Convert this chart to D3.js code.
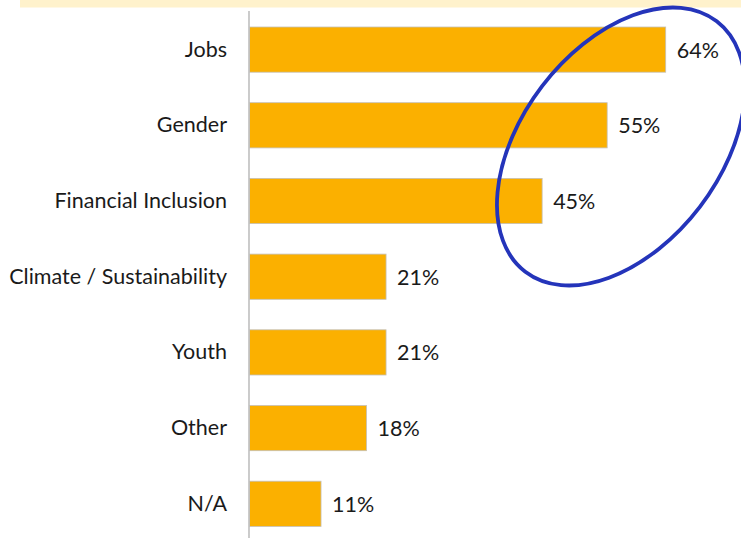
<!DOCTYPE html>
<html>
<head>
<meta charset="utf-8">
<script src="https://cdn.jsdelivr.net/npm/d3@7"></script>
<style>
  html, body { margin: 0; padding: 0; background: #ffffff; }
  svg { display: block; }
</style>
</head>
<body>
<svg id="chart" width="741" height="538"></svg>
<script>
// Share of respondents by focus area
const categories = ["Jobs", "Gender", "Financial Inclusion", "Climate / Sustainability", "Youth", "Other", "N/A"];
const values = [64, 55, 45, 21, 21, 18, 11];
const valueLabels = ["64%", "55%", "45%", "21%", "21%", "18%", "11%"];

const W = 741, H = 538;
const svg = d3.select("#chart");
const font = "Lato, 'Open Sans', sans-serif";

// light header strip
svg.append("rect")
  .attr("x", 20).attr("y", 0)
  .attr("width", W - 20).attr("height", 7.5)
  .attr("fill", "#FFF2CC");

const x = d3.scaleLinear().domain([0, 64]).range([249.5, 665.7]);

// bars: first at y=27, spaced ~75.7px apart, ~45px tall
const step = 75.7, barH = 45.2, top0 = 27;
const y = d3.scaleBand()
  .domain(categories)
  .range([top0, top0 + step * (categories.length - 1) + barH])
  .paddingInner((step - barH) / step)
  .paddingOuter(0);

const g = svg.append("g");

g.selectAll("rect.bar")
  .data(categories)
  .join("rect")
  .attr("class", "bar")
  .attr("x", x(0))
  .attr("y", d => y(d))
  .attr("width", (d, i) => x(values[i]) - x(0))
  .attr("height", y.bandwidth())
  .attr("fill", "#FBB000")
  .attr("stroke", "#C4C0B8")
  .attr("stroke-width", 0.8);

// vertical category axis line
svg.append("line")
  .attr("x1", 249).attr("x2", 249)
  .attr("y1", 11).attr("y2", H)
  .attr("stroke", "#BFBFBF")
  .attr("stroke-width", 1.6);

// category labels
g.selectAll("text.cat")
  .data(categories)
  .join("text")
  .attr("class", "cat")
  .attr("x", 227)
  .attr("y", d => y(d) + y.bandwidth() / 2 + 0.5)
  .attr("dy", "0.3em")
  .attr("text-anchor", "end")
  .attr("font-family", font)
  .attr("font-size", 21.5)
  .attr("fill", "#1a1a1a")
  .text(d => d);

// value labels
g.selectAll("text.val")
  .data(categories)
  .join("text")
  .attr("class", "val")
  .attr("x", (d, i) => x(values[i]) + 11)
  .attr("y", d => y(d) + y.bandwidth() / 2 + 1.5)
  .attr("dy", "0.3em")
  .attr("font-family", font)
  .attr("font-size", 21.5)
  .attr("fill", "#1a1a1a")
  .text((d, i) => valueLabels[i]);

// highlight ellipse around the top three areas
svg.append("ellipse")
  .attr("cx", 0).attr("cy", 0)
  .attr("rx", 157.6).attr("ry", 99.3)
  .attr("transform", "translate(621,146.5) rotate(-52.6)")
  .attr("fill", "none")
  .attr("stroke", "#2434BA")
  .attr("stroke-width", 3.8);
</script>
</body>
</html>
